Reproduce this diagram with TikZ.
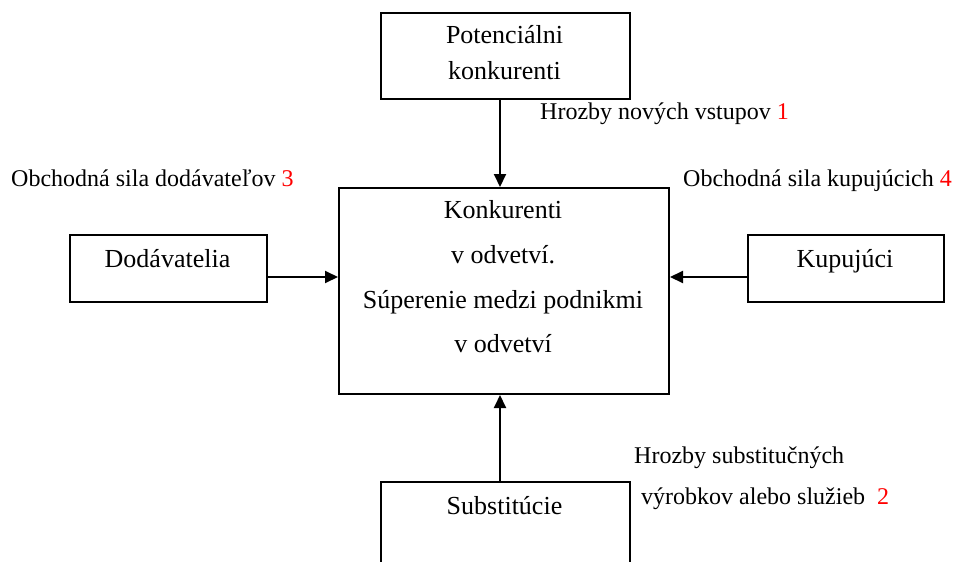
\documentclass[tikz,border=0pt]{standalone}
\usepackage{fontspec}
\setmainfont{Liberation Serif}
\usetikzlibrary{arrows.meta}
\begin{document}
\begin{tikzpicture}[x=1pt,y=-1pt,
  box/.style={draw, line width=2pt, inner sep=0pt, anchor=north west},
  txt/.style={inner sep=0pt, anchor=base, font=\fontsize{26}{30}\selectfont},
  lbl/.style={inner sep=0pt, anchor=base west, font=\fontsize{24}{28}\selectfont},
  force/.style={line width=2pt, -{Triangle[length=13pt,width=12pt]}},
  num/.style={red}]
\useasboundingbox (0,0) rectangle (956,562);
\clip (0,0) rectangle (956,562);

% the five forces
\node[box, minimum width=249pt, minimum height=86pt]  (pot)  at (380,12)  {};
\node[box, minimum width=330pt, minimum height=206pt] (main) at (338,187) {};
\node[box, minimum width=197pt, minimum height=67pt]  (dod)  at (69,234)  {};
\node[box, minimum width=196pt, minimum height=67pt]  (kup)  at (747,234) {};
\node[box, minimum width=249pt, minimum height=119pt] (sub)  at (380,481) {};

% texts in the boxes
\node[txt] (potA) at (504.5,43) {Potenciálni};
\node[txt] (potB) at (504.5,79) {konkurenti};
\node[txt] (mainA) at (503,218) {Konkurenti};
\node[txt] (mainB) at (503,263) {v odvetví.};
\node[txt] (mainC) at (503,308) {Súperenie medzi podnikmi};
\node[txt] (mainD) at (503,352) {v odvetví};
\node[txt] (dodT) at (167.5,267) {Dodávatelia};
\node[txt] (kupT) at (845,267) {Kupujúci};
\node[txt] (subT) at (504.5,514) {Substitúcie};

% arrow guides
\coordinate (ax) at (500,0);
\coordinate (ay) at (0,277);

% connectors
\draw[force] (pot.south -| ax) -- (main.north -| ax);
\draw[force] (sub.north -| ax) -- (main.south -| ax);
\draw[force] (dod.east |- ay) -- (main.west |- ay);
\draw[force] (kup.west |- ay) -- (main.east |- ay);

% labels of the forces
\node[lbl] (l1) at (540,119) {Hrozby nových vstupov \textcolor{red}{1}};
\node[lbl] (l3) at (11,186) {Obchodná sila dodávateľov \textcolor{red}{3}};
\node[lbl] (l4) at (683,186) {Obchodná sila kupujúcich \textcolor{red}{4}};
\node[lbl] (l2a) at (634,463) {Hrozby substitučných};
\node[lbl] (l2b) at (641,504) {výrobkov alebo služieb\hspace{0.5em}\textcolor{red}{2}};
\end{tikzpicture}
\end{document}
